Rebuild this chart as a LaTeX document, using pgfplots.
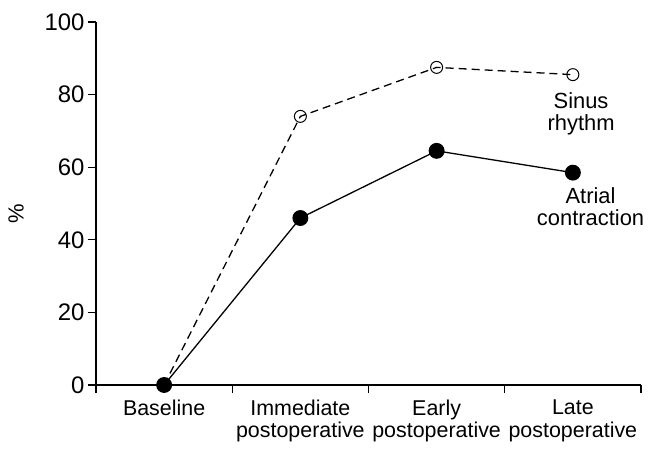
\documentclass[border=0pt]{standalone}
\usepackage{pgfplots}
\pgfplotsset{compat=1.18}
\usepackage{fontspec}
\setmainfont{Liberation Sans}
\begin{document}
\begin{tikzpicture}
\useasboundingbox (-96bp,-71bp) rectangle (558bp,385bp);
\begin{axis}[
  at={(0,0)}, anchor=south west,
  scale only axis, width=545bp, height=363bp,
  xmin=0, xmax=4, ymin=0, ymax=100,
  axis x line*=bottom, axis y line*=left,
  axis line style={line width=1.1pt},
  xtick={0.5,1.5,2.5,3.5},
  xticklabels={Baseline, {Immediate\\postoperative}, {Early\\postoperative}, {Late\\postoperative}},
  xticklabel style={align=center, font=\fontsize{21.5}{23}\selectfont, yshift=-3bp},
  minor xtick={0,1,2,3,4},
  major x tick style={draw=none},
  minor tick length=8bp,
  ytick={0,20,40,60,80,100},
  major tick length=8bp,
  tick align=outside,
  tick style={line width=1.1pt, black},
  yticklabel style={font=\fontsize{24}{26}\selectfont},
  /pgf/number format/assume math mode=true,
  ylabel={\%},
  every axis y label/.style={at={(axis description cs:0,0.5)}, xshift=-80bp, yshift=-10bp, rotate=90, anchor=center, font=\fontsize{22}{24}\selectfont},
  clip=false,
]
\addplot[black, line width=1.3pt, dash pattern=on 8bp off 5bp, mark=o, mark size=6bp, mark options={solid, fill=white, line width=1pt}]
  coordinates {(0.5,0) (1.5,74) (2.5,87.5) (3.5,85.5)};
\addplot[black, line width=1.3pt, mark=*, mark size=7.3bp, mark options={solid, fill=black}]
  coordinates {(0.5,0) (1.5,46) (2.5,64.5) (3.5,58.5)};
\node[align=center, font=\fontsize{22}{22}\selectfont] at (axis cs:3.56,74.6) {Sinus\\rhythm};
\node[align=center, font=\fontsize{22}{22}\selectfont] at (axis cs:3.63,49.2) {Atrial\\contraction};
\end{axis}
\end{tikzpicture}
\end{document}
